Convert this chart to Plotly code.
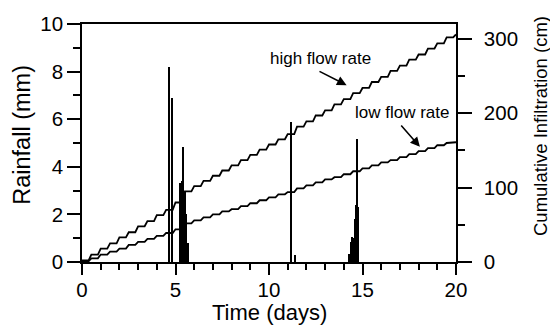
import plotly.graph_objects as go

# ---- data ----
time_days = [i * 0.5 for i in range(41)]
high_flow_cm = [2, 10, 18, 25, 33, 40, 48, 55, 63, 70, 80, 95, 102, 109, 116, 123,
                130, 137, 144, 151, 158, 165, 172, 182, 189, 197, 204, 212, 219,
                227, 234, 242, 249, 257, 264, 272, 279, 287, 294, 302, 306]
low_flow_cm = [1, 5, 10, 14, 18, 23, 27, 31, 35, 39, 44, 52, 56, 60, 64, 68, 71, 75,
               79, 83, 87, 91, 94, 99, 103, 107, 111, 114, 118, 122, 126, 130, 134,
               137, 141, 145, 149, 153, 157, 160, 161]

rain_days = [4.64, 4.82,
             5.28, 5.36, 5.43, 5.50, 5.58, 5.66,
             11.21, 11.42,
             14.30, 14.38, 14.45, 14.52, 14.60, 14.66, 14.72, 14.79]
rain_mm = [8.2, 6.9,
           3.3, 3.4, 4.85, 3.0, 2.0, 0.8,
           5.9, 0.3,
           0.35, 0.85, 1.05, 1.0, 1.8, 2.4, 5.15, 2.3]

FONT = "Liberation Sans, Arial, Helvetica, sans-serif"


def staircase(ts, vs, flat_frac=0.7):
    """Hold each value, then rise with a short slanted segment to the next one."""
    xs, ys = [], []
    for i in range(len(ts) - 1):
        t0, t1 = ts[i], ts[i + 1]
        xs += [t0, t0 + flat_frac * (t1 - t0)]
        ys += [vs[i], vs[i]]
    xs.append(ts[-1])
    ys.append(vs[-1])
    return xs, ys


fig = go.Figure()
fig.add_trace(go.Bar(x=rain_days, y=rain_mm, width=0.08,
                     marker=dict(color="black", line=dict(width=0)),
                     yaxis="y", showlegend=False))
for series in (high_flow_cm, low_flow_cm):
    sx, sy = staircase(time_days, series)
    fig.add_trace(go.Scatter(x=sx, y=sy, mode="lines",
                             line=dict(color="black", width=1.8),
                             yaxis="y2", showlegend=False))

axis_common = dict(showgrid=False, zeroline=False, showline=True, linecolor="black",
                   linewidth=1.5, ticks="outside", tickcolor="black", tickwidth=1.5,
                   tickfont=dict(family=FONT, size=20.5, color="black"))

fig.update_layout(
    width=550, height=333,
    margin=dict(l=82, r=94, t=17, b=71),
    paper_bgcolor="white", plot_bgcolor="white",
    font=dict(family=FONT, color="black"),
    xaxis=dict(range=[0, 20], dtick=5, ticklen=11, mirror=True, ticklabelstandoff=-2,
               minor=dict(dtick=1, ticklen=6, tickwidth=1.5, tickcolor="black", ticks="outside"),
               **axis_common),
    yaxis=dict(range=[0, 10], dtick=2, ticklen=13,
               minor=dict(dtick=1, ticklen=7, tickwidth=1.5, tickcolor="black", ticks="outside"),
               **axis_common),
    yaxis2=dict(range=[0, 320], dtick=100, ticklen=14, overlaying="y", side="right",
                ticklabelstandoff=8,
                minor=dict(dtick=50, ticklen=7, tickwidth=1.5, tickcolor="black", ticks="outside"),
                **axis_common),
    bargap=0,
)

annotations = [
    dict(text="Time (days)", xref="paper", yref="paper", x=0.5, y=-0.213,
         showarrow=False, font=dict(size=22), xanchor="center", yanchor="middle"),
    dict(text="Rainfall (mm)", xref="paper", yref="paper", x=-0.1604, y=0.5347,
         showarrow=False, textangle=-90, font=dict(size=23.5), xanchor="center", yanchor="middle"),
    dict(text="Cumulative Infiltration (cm)", xref="paper", yref="paper", x=1.2246, y=0.5714,
         showarrow=False, textangle=-90, font=dict(size=18.5), xanchor="center", yanchor="middle"),
    dict(text="high flow rate", xref="x", yref="y", x=12.73, y=8.53, showarrow=False,
         font=dict(size=17), xanchor="center", yanchor="middle"),
    dict(text="low flow rate", xref="x", yref="y", x=17.1, y=6.29, showarrow=False,
         font=dict(size=17), xanchor="center", yanchor="middle"),
    dict(text="", xref="x", yref="y", x=14.15, y=7.43, axref="x", ayref="y",
         ax=12.62, ay=8.04, showarrow=True, arrowhead=2, arrowsize=1.2, arrowwidth=1.6,
         arrowcolor="black"),
    dict(text="", xref="x", yref="y", x=18.07, y=4.84, axref="x", ayref="y",
         ax=17.0, ay=5.8, showarrow=True, arrowhead=2, arrowsize=1.2, arrowwidth=1.6,
         arrowcolor="black"),
]
fig.update_layout(annotations=annotations)

fig.write_html("out.html")
